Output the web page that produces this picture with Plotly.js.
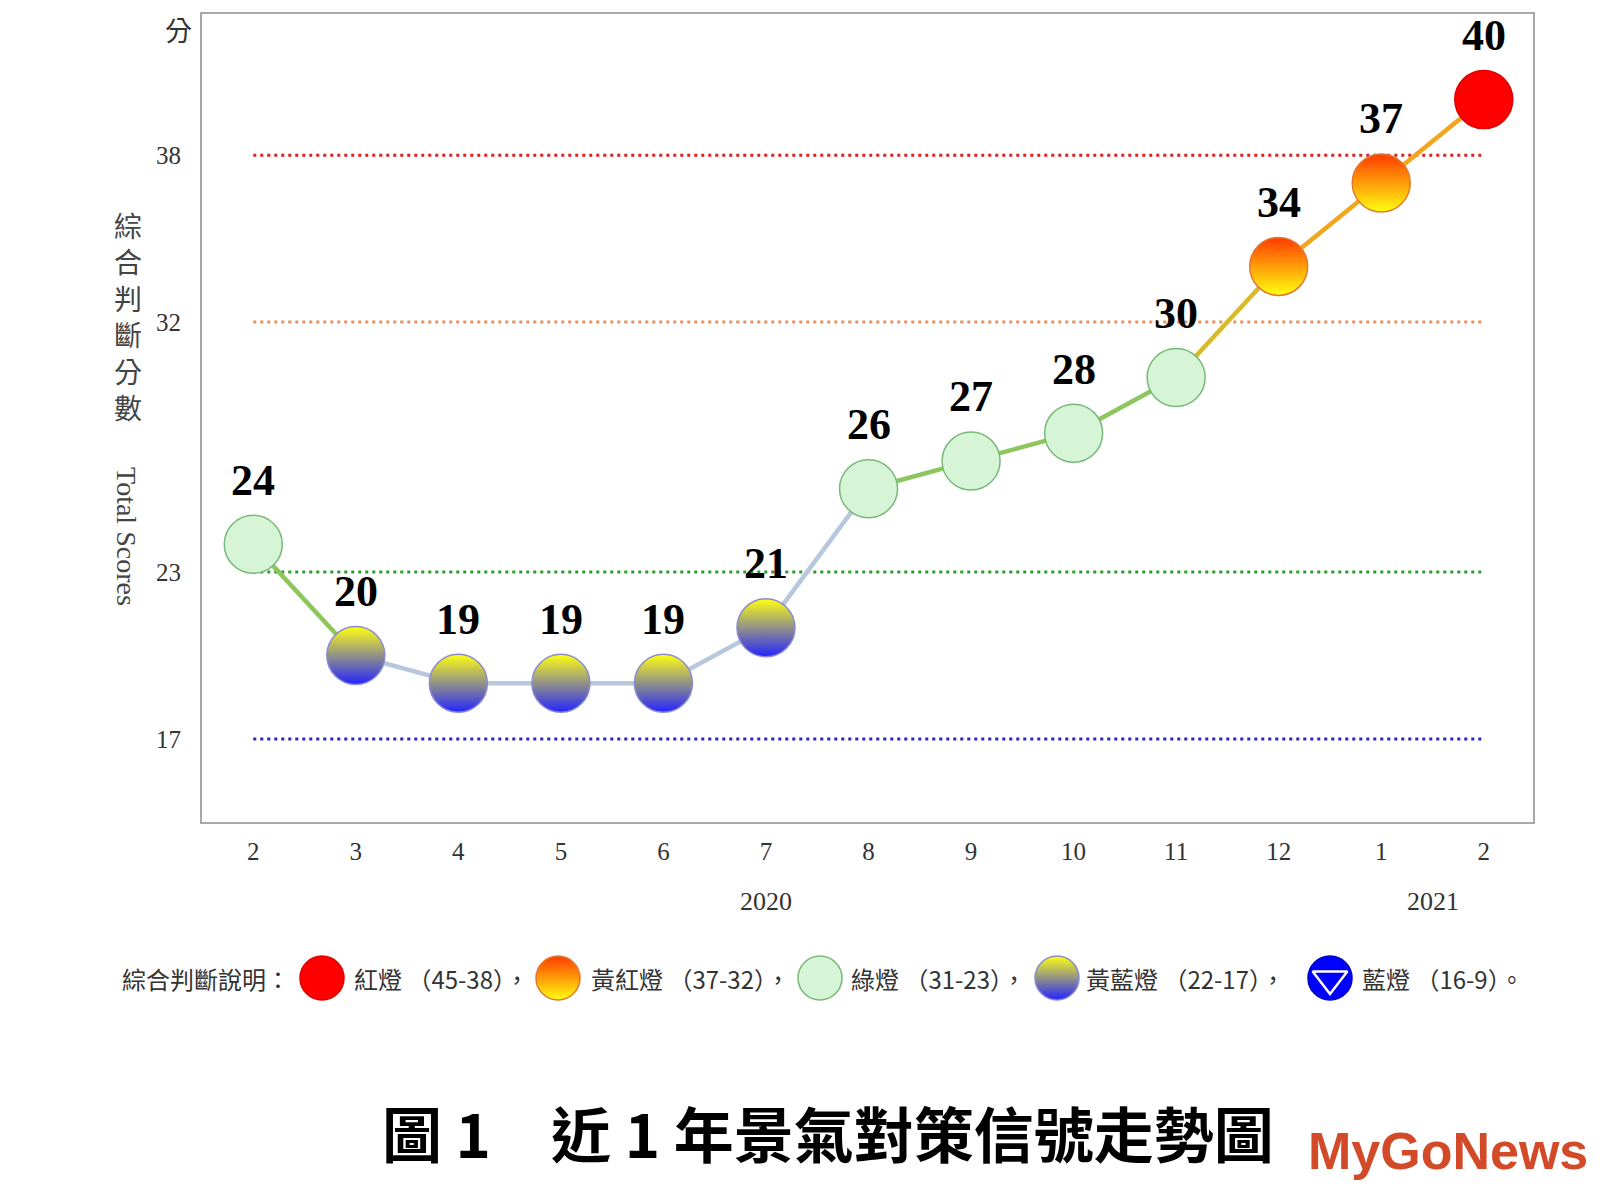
<!DOCTYPE html>
<html>
<head>
<meta charset="utf-8">
<script src="https://cdn.plot.ly/plotly-3.0.1.min.js"></script>
<style>html,body{margin:0;padding:0;background:#fff;}#chart{width:1600px;height:1200px;}</style>
</head>
<body>
<div id="chart"></div>
<script>
// ---------- data ----------
const months = ['2','3','4','5','6','7','8','9','10','11','12','1','2'];
const scores = [24, 20, 19, 19, 19, 21, 26, 27, 28, 30, 34, 37, 40];
const years = ['2020', '2021'];
const yearAt = [5, 11.5];              // category index under which each year label sits
const thresholds = [38, 32, 23, 17];
const yTicks = [38, 32, 23, 17];
const legendNames = ['紅燈', '黃紅燈', '綠燈', '黃藍燈', '藍燈'];
const legendRanges = ['45-38', '37-32', '31-23', '22-17', '16-9'];
const legendSeps = ['，', '，', '，', '，', '。'];
const legendLead = '綜合判斷說明：';
const titleText = '圖 1　近 1 年景氣對策信號走勢圖';
const yTitleZh = ['綜', '合', '判', '斷', '分', '數'];
const yTitleEn = 'Total Scores';
const yUnit = '分';

// ---------- styles ----------
const classStyle = {
  red:    {top: '#ff0000', bottom: '#ff0000', grad: 'none',     line: '#e00000', seg: '#f0a020'},
  yr:     {top: '#ff3a00', bottom: '#ffff10', grad: 'vertical', line: '#e07a30', seg: '#f2a61e'},
  green:  {top: '#d6f5d6', bottom: '#d6f5d6', grad: 'none',     line: '#78b878', seg: '#8cc65c'},
  yb:     {top: '#ffff10', bottom: '#2424ff', grad: 'vertical', line: '#8a8ad0', seg: '#b7c7dc'},
  blue:   {top: '#0000ff', bottom: '#0000ff', grad: 'none',     line: '#0000c0', seg: '#6060ff'}
};
const classOrder = ['red', 'yr', 'green', 'yb', 'blue'];
function cls(v) {
  if (v >= 38) return 'red';
  if (v >= 32) return 'yr';
  if (v >= 23) return 'green';
  if (v >= 17) return 'yb';
  return 'blue';
}
const thresholdColors = ['#e02020', '#e8925a', '#2f9a2f', '#2727c8'];
const serif = '"Liberation Serif", "Times New Roman", serif';
const cjk = '"Noto Sans CJK TC", "Noto Sans CJK SC", sans-serif';

const idx = months.map((_, i) => i);
const traces = [];

// threshold dotted lines
thresholds.forEach((t, k) => {
  traces.push({
    x: [idx[0], idx[idx.length - 1]], y: [t, t], mode: 'lines', type: 'scatter',
    line: {color: thresholdColors[k], width: 3, dash: '3px,4px'},
    hoverinfo: 'skip', xaxis: 'x', yaxis: 'y'
  });
});

// connecting segments
for (let i = 0; i < scores.length - 1; i++) {
  const a = cls(scores[i]), b = cls(scores[i + 1]);
  let col = classStyle[a].seg;
  if (a === 'green' && b === 'yr') col = '#d9bb2a';
  traces.push({
    x: [idx[i], idx[i + 1]], y: [scores[i], scores[i + 1]], mode: 'lines', type: 'scatter',
    line: {color: col, width: 4.5}, hoverinfo: 'skip', xaxis: 'x', yaxis: 'y'
  });
}

// markers
const cl = scores.map(cls);
traces.push({
  x: idx, y: scores, mode: 'markers', type: 'scatter', cliponaxis: false,
  marker: {
    size: 58, symbol: 'circle',
    color: cl.map(c => classStyle[c].top),
    gradient: {type: cl.map(c => classStyle[c].grad), color: cl.map(c => classStyle[c].bottom)},
    line: {color: cl.map(c => classStyle[c].line), width: 1.5}
  },
  hovertemplate: '%{y}<extra></extra>', xaxis: 'x', yaxis: 'y'
});

// ---------- legend row (pixel overlay axis) ----------
const legMarkerX = [322, 558, 820, 1057, 1330];
const legTextX = [352, 589, 849, 1084, 1360];
const legY = 978;
traces.push({
  x: legMarkerX, y: legMarkerX.map(() => legY), mode: 'markers', type: 'scatter',
  marker: {
    size: 44, symbol: 'circle',
    color: classOrder.map(c => classStyle[c].top),
    gradient: {type: classOrder.map(c => classStyle[c].grad), color: classOrder.map(c => classStyle[c].bottom)},
    line: {color: classOrder.map(c => classStyle[c].line), width: 1.5}
  },
  hoverinfo: 'skip', xaxis: 'x2', yaxis: 'y2'
});
traces.push({
  x: [legMarkerX[4]], y: [legY + 1], mode: 'markers', type: 'scatter',
  marker: {size: 30, symbol: 'triangle-down-open', color: '#ffffff', line: {color: '#ffffff', width: 2.5}},
  hoverinfo: 'skip', xaxis: 'x2', yaxis: 'y2'
});

// ---------- annotations ----------
const ann = [];
scores.forEach((v, i) => {
  ann.push({x: idx[i], y: v, xref: 'x', yref: 'y', text: String(v), showarrow: false,
    yshift: 64, font: {family: serif, size: 44, color: '#000', weight: 700}});
});
years.forEach((y, k) => {
  ann.push({x: yearAt[k], y: 901, xref: 'x', yref: 'y2', text: y, showarrow: false,
    font: {family: serif, size: 26, color: '#333'}});
});
ann.push({x: 178, y: 29, xref: 'x2', yref: 'y2', text: yUnit, showarrow: false,
  font: {family: cjk, size: 27, color: '#333'}});
ann.push({x: 128, y: 316, xref: 'x2', yref: 'y2', text: yTitleZh.join('<br>'), showarrow: false,
  font: {family: cjk, size: 28, color: '#444'}});
ann.push({x: 127, y: 536, xref: 'x2', yref: 'y2', text: yTitleEn, showarrow: false, textangle: 90,
  font: {family: serif, size: 28, color: '#444'}});
ann.push({x: 120, y: legY, xref: 'x2', yref: 'y2', text: legendLead, xanchor: 'left', showarrow: false,
  font: {family: cjk, size: 24, color: '#333'}});
legendNames.forEach((n, k) => {
  ann.push({x: legTextX[k], y: legY, xref: 'x2', yref: 'y2',
    text: n + ' （' + legendRanges[k] + '）' + legendSeps[k],
    xanchor: 'left', showarrow: false, font: {family: cjk, size: 24, color: '#333'}});
});
ann.push({x: 380, y: 1131, xref: 'x2', yref: 'y2', text: titleText, xanchor: 'left', showarrow: false,
  font: {family: cjk, size: 60, color: '#000', weight: 700}});
ann.push({x: 1306, y: 1151, xref: 'x2', yref: 'y2', text: 'MyGoNews', xanchor: 'left', showarrow: false,
  font: {family: '"Liberation Sans", Arial, sans-serif', size: 52, color: '#d24a28', weight: 700}});

const layout = {
  width: 1600, height: 1200,
  margin: {l: 0, r: 0, t: 0, b: 0},
  paper_bgcolor: '#ffffff', plot_bgcolor: 'rgba(0,0,0,0)',
  showlegend: false,
  xaxis: {
    domain: [202 / 1600, 1533 / 1600], range: [-0.5, 12.48],
    tickmode: 'array', tickvals: idx, ticktext: months,
    tickfont: {family: serif, size: 25, color: '#333'},
    ticks: 'outside', ticklen: 6, tickcolor: 'rgba(0,0,0,0)',
    showline: true, mirror: true, linecolor: '#a8a8a8', linewidth: 2,
    showgrid: false, zeroline: false, fixedrange: true, anchor: 'y'
  },
  yaxis: {
    domain: [1 - 822 / 1200, 1 - 14 / 1200], range: [14.01, 43.08],
    tickmode: 'array', tickvals: yTicks, ticktext: yTicks.map(String),
    tickfont: {family: serif, size: 25, color: '#333'},
    ticks: 'outside', ticklen: 14, tickcolor: 'rgba(0,0,0,0)',
    showline: true, mirror: true, linecolor: '#a8a8a8', linewidth: 2,
    showgrid: false, zeroline: false, fixedrange: true, anchor: 'x'
  },
  xaxis2: {domain: [0, 1], range: [0, 1600], visible: false, anchor: 'y2', fixedrange: true},
  yaxis2: {domain: [0, 1], range: [1200, 0], visible: false, anchor: 'x2', fixedrange: true},
  annotations: ann
};

Plotly.newPlot('chart', traces, layout, {displayModeBar: false, staticPlot: true});
</script>
</body>
</html>
